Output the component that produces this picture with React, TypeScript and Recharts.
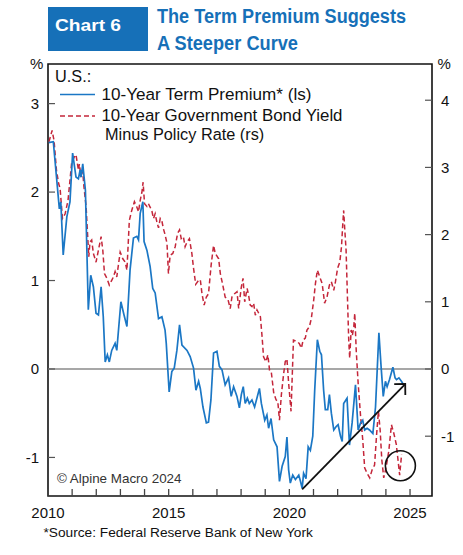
import {
  LineChart,
  Line,
  XAxis,
  YAxis,
  ReferenceLine,
  ReferenceDot,
  ReferenceArea,
} from 'recharts';

const FONT = '"Liberation Sans", Arial, Helvetica, sans-serif';
const BLUE = '#1b77c5';
const RED = '#c4263a';
const TITLE_BLUE = '#1670b8';

// U.S. 10-year term premium, % (left scale)
const tpYears = [
  2010.03, 2010.22, 2010.47, 2010.53, 2010.63, 2010.78, 2010.91, 2011.02, 2011.16, 2011.26,
  2011.33, 2011.37, 2011.44, 2011.55, 2011.67, 2011.77, 2011.88, 2011.99, 2012.09, 2012.2,
  2012.29, 2012.37, 2012.46, 2012.54, 2012.64, 2012.78, 2012.85, 2013.02, 2013.15, 2013.27,
  2013.4, 2013.54, 2013.68, 2013.75, 2013.82, 2013.93, 2013.98, 2014.1, 2014.23, 2014.34,
  2014.44, 2014.58, 2014.72, 2014.85, 2014.9, 2015.02, 2015.13, 2015.23, 2015.34, 2015.45,
  2015.55, 2015.76, 2015.89, 2016.03, 2016.13, 2016.24, 2016.31, 2016.42, 2016.56, 2016.65,
  2016.75, 2016.86, 2017.0, 2017.1, 2017.21, 2017.34, 2017.48, 2017.59, 2017.69, 2017.83,
  2017.93, 2018.01, 2018.09, 2018.17, 2018.26, 2018.34, 2018.45, 2018.56, 2018.76, 2018.84,
  2018.98, 2019.07, 2019.14, 2019.24, 2019.35, 2019.49, 2019.59, 2019.7, 2019.83, 2019.9,
  2019.97, 2020.04, 2020.14, 2020.25, 2020.39, 2020.46, 2020.53, 2020.59, 2020.69, 2020.78,
  2020.87, 2020.97, 2021.05, 2021.16, 2021.26, 2021.33, 2021.42, 2021.49, 2021.59, 2021.66,
  2021.74, 2021.84, 2021.94, 2022.02, 2022.12, 2022.19, 2022.25, 2022.39, 2022.49, 2022.6,
  2022.74, 2022.85, 2022.95, 2023.04, 2023.12, 2023.22, 2023.32, 2023.46, 2023.57, 2023.71,
  2023.8, 2023.89, 2023.98, 2024.05, 2024.15, 2024.29, 2024.38, 2024.44, 2024.54, 2024.65,
  2024.71,
];
const tpValues = [
  2.56, 2.57, 1.81, 1.89, 1.29, 1.72, 1.89, 2.44, 2.17, 2.15,
  2.25, 2.17, 2.32, 2.02, 0.67, 1.06, 0.93, 0.63, 0.61, 0.93,
  0.59, 0.08, 0.16, 0.08, 0.21, 0.29, 0.21, 0.76, 0.61, 0.48,
  1.12, 1.48, 1.5, 1.46, 1.76, 1.89, 1.44, 1.34, 1.16, 0.91,
  0.86, 0.57, 0.59, 0.44, 0.29, -0.26, -0.03, 0.01, 0.21, 0.5,
  0.27, 0.21, 0.14, 0.01, -0.24, -0.14, -0.22, -0.43, -0.61, -0.6,
  -0.35, 0.18, 0.2, 0.03, -0.01, -0.18, -0.1, -0.31, -0.2, -0.31,
  -0.44, -0.29, -0.2, -0.39, -0.33, -0.39, -0.35, -0.43, -0.22, -0.39,
  -0.58, -0.52, -0.67, -0.56, -0.8, -0.88, -1.27, -1.1, -0.99, -0.77,
  -1.14, -1.29, -1.2, -1.25, -1.2, -1.27, -1.35, -1.18, -1.24, -0.88,
  -0.92, -0.76, -0.24, 0.33, 0.2, 0.16, -0.24, -0.46, -0.46, -0.29,
  -0.5, -0.69, -0.65, -0.63, -0.76, -0.82, -0.39, -0.33, -0.86, -0.61,
  -0.18, -0.69, -0.61, -0.58, -0.69, -0.67, -0.69, -0.73, -0.43, 0.41,
  0.03, -0.31, -0.14, -0.2, -0.12, 0.02, -0.1, -0.12, -0.1, -0.14,
  -0.17,
];

// 10-year government bond yield minus policy rate, % (right scale)
const gapYears = [
  2010.04, 2010.17, 2010.25, 2010.35, 2010.44, 2010.5, 2010.6, 2010.71, 2010.83, 2010.98,
  2011.08, 2011.16, 2011.26, 2011.3, 2011.36, 2011.44, 2011.49, 2011.58, 2011.63, 2011.69,
  2011.74, 2011.81, 2011.88, 2011.99, 2012.09, 2012.2, 2012.27, 2012.34, 2012.44, 2012.54,
  2012.64, 2012.71, 2012.78, 2012.85, 2012.99, 2013.1, 2013.2, 2013.27, 2013.37, 2013.47,
  2013.58, 2013.68, 2013.75, 2013.82, 2013.89, 2013.94, 2014.0, 2014.1, 2014.16, 2014.23,
  2014.3, 2014.37, 2014.44, 2014.51, 2014.58, 2014.65, 2014.72, 2014.78, 2014.85, 2014.93,
  2014.99, 2015.06, 2015.17, 2015.27, 2015.37, 2015.45, 2015.52, 2015.61, 2015.68, 2015.76,
  2015.86, 2015.96, 2016.03, 2016.12, 2016.24, 2016.31, 2016.38, 2016.47, 2016.56, 2016.65,
  2016.76, 2016.86, 2016.93, 2017.07, 2017.14, 2017.23, 2017.34, 2017.46, 2017.55, 2017.62,
  2017.73, 2017.83, 2017.9, 2018.01, 2018.08, 2018.15, 2018.25, 2018.31, 2018.38, 2018.45,
  2018.52, 2018.59, 2018.66, 2018.73, 2018.8, 2018.87, 2018.93, 2019.03, 2019.11, 2019.18,
  2019.25, 2019.35, 2019.45, 2019.52, 2019.59, 2019.67, 2019.76, 2019.83, 2019.9, 2019.97,
  2020.07, 2020.17, 2020.32, 2020.41, 2020.5, 2020.57, 2020.66, 2020.73, 2020.83, 2020.91,
  2021.01, 2021.08, 2021.16, 2021.26, 2021.36, 2021.46, 2021.56, 2021.66, 2021.74, 2021.84,
  2021.91, 2022.0, 2022.09, 2022.16, 2022.21, 2022.25, 2022.29, 2022.35, 2022.41, 2022.46,
  2022.5, 2022.56, 2022.61, 2022.67, 2022.71, 2022.77, 2022.85, 2022.95, 2023.04, 2023.12,
  2023.22, 2023.33, 2023.43, 2023.53, 2023.62, 2023.69, 2023.76, 2023.83, 2023.91, 2024.0,
  2024.12, 2024.23, 2024.33, 2024.43, 2024.51, 2024.57, 2024.65,
];
const gapValues = [
  3.38, 3.55, 3.4, 2.96, 2.76, 2.69, 2.24, 2.31, 2.51, 3.07,
  3.15, 3.19, 2.96, 3.05, 2.88, 2.93, 2.71, 2.41, 2.07, 1.67,
  1.89, 1.92, 1.72, 1.59, 1.77, 1.97, 1.77, 1.42, 1.35, 1.25,
  1.32, 1.37, 1.45, 1.37, 1.74, 1.64, 1.59, 1.47, 2.21, 2.36,
  2.49, 2.41, 2.34, 2.51, 2.63, 2.78, 2.46, 2.42, 2.46, 2.41,
  2.36, 2.24, 2.31, 2.19, 2.1, 2.24, 2.2, 2.09, 2.0, 1.87,
  1.42, 1.69, 1.72, 1.82, 2.02, 2.07, 1.94, 1.97, 1.82, 1.89,
  1.94, 1.72, 1.5, 1.26, 1.32, 1.33, 1.12, 0.95, 1.07, 1.12,
  1.55, 1.84, 1.72, 1.64, 1.42, 1.27, 1.07, 1.03, 0.9, 1.07,
  1.12, 1.15, 0.9, 1.22, 1.35, 1.0, 1.2, 1.1, 0.95, 0.93,
  0.98, 0.8, 0.88, 0.83, 0.78, 0.48, 0.18, 0.11, 0.21, -0.02,
  -0.04, -0.35, -0.46, -0.48, -0.76, -0.38, -0.08, 0.11, 0.15, -0.21,
  -0.63, 0.43, 0.41, 0.38, 0.31, 0.43, 0.46, 0.58, 0.63, 0.75,
  1.03, 1.27, 1.47, 1.37, 1.27, 0.98, 1.07, 1.25, 1.3, 1.17,
  1.3, 1.5, 1.59, 1.82, 2.14, 2.36, 2.11, 1.77, 1.03, 0.43,
  0.16, 0.58, 0.5, 0.63, 0.83, 0.28, -0.21, -0.7, -1.05, -1.47,
  -1.55, -1.62, -1.5, -1.43, -0.95, -0.63, -0.9, -1.35, -1.62, -1.48,
  -1.22, -0.83, -0.96, -1.12, -1.38, -1.58, -1.27,
];

const yearTicks = [
  2010, 2011, 2012, 2013, 2014, 2015, 2016, 2017,
  2018, 2019, 2020, 2021, 2022, 2023, 2024, 2025,
];
const leftTicks = [-1, 0, 1, 2, 3];
const rightTicks = [-1, 0, 1, 2, 3, 4];

const X_DOMAIN: [number, number] = [2010, 2025.91];
const LEFT_DOMAIN: [number, number] = [-1.436, 3.448];
const RIGHT_DOMAIN: [number, number] = [-1.89, 4.539];

// trend arrow (left scale) and the circled latest reading (right scale)
const arrowFrom = { x: 2020.53, y: -1.36 };
const arrowTo = { x: 2024.8, y: -0.17 };
const circled = { x: 2024.6, y: -1.44 };

const rows = [
  ...tpYears.map((year, i) => ({ year, tp: tpValues[i] })),
  ...gapYears.map((year, i) => ({ year, gap: gapValues[i] })),
].sort((a, b) => a.year - b.year);

const tickStyle = { fontSize: 15, fill: '#111', fontFamily: FONT };

function ArrowShape(props: any) {
  const { x1, y1, x2, y2 } = props;
  const a = Math.atan2(y2 - y1, x2 - x1);
  const len = 11;
  const p1 = [x2 - len * Math.cos(a - Math.PI / 4), y2 - len * Math.sin(a - Math.PI / 4)];
  const p2 = [x2 - len * Math.cos(a + Math.PI / 4), y2 - len * Math.sin(a + Math.PI / 4)];
  return (
    <g>
      <line x1={x1} y1={y1} x2={x2} y2={y2} stroke="#111" strokeWidth={1.8} />
      <polyline
        points={`${p1[0]},${p1[1]} ${x2},${y2} ${p2[0]},${p2[1]}`}
        fill="none"
        stroke="#111"
        strokeWidth={1.8}
      />
    </g>
  );
}

export default function App() {
  return (
    <div style={{ position: 'absolute', left: 0, top: 0, width: 463, height: 555, background: '#fff' }}>
      <LineChart
        width={463}
        height={555}
        data={rows}
        margin={{ top: 64, right: 5, bottom: 29, left: 8 }}
      >
        <XAxis
          type="number"
          dataKey="year"
          domain={X_DOMAIN}
          allowDataOverflow
          ticks={yearTicks}
          interval={0}
          height={30}
          tickSize={-7}
          tickMargin={18}
          axisLine={false}
          tickLine={{ stroke: '#444', strokeWidth: 1.3 }}
          tick={tickStyle}
          tickFormatter={(v: number) => (v % 5 === 0 ? String(v) : '')}
        />
        <YAxis
          yAxisId="left"
          orientation="left"
          domain={LEFT_DOMAIN}
          allowDataOverflow
          ticks={leftTicks}
          interval={0}
          width={40}
          tickSize={-7}
          tickMargin={16}
          axisLine={false}
          tickLine={{ stroke: '#555', strokeWidth: 1.2 }}
          tick={tickStyle}
        />
        <YAxis
          yAxisId="right"
          orientation="right"
          domain={RIGHT_DOMAIN}
          allowDataOverflow
          ticks={rightTicks}
          interval={0}
          width={26}
          tickSize={-7}
          tickMargin={16}
          axisLine={false}
          tickLine={{ stroke: '#555', strokeWidth: 1.2 }}
          tick={tickStyle}
        />
        <ReferenceArea
          yAxisId="left"
          x1={X_DOMAIN[0]}
          x2={X_DOMAIN[1]}
          y1={LEFT_DOMAIN[0]}
          y2={LEFT_DOMAIN[1]}
          fill="none"
          stroke="#111"
          strokeWidth={1.6}
        />
        <ReferenceLine yAxisId="left" y={0} stroke="#8a8a8a" strokeWidth={1.5} />
        <Line
          yAxisId="right"
          type="linear"
          dataKey="gap"
          stroke={RED}
          strokeWidth={1.5}
          strokeDasharray="5 3"
          dot={false}
          connectNulls
          isAnimationActive={false}
        />
        <Line
          yAxisId="left"
          type="linear"
          dataKey="tp"
          stroke={BLUE}
          strokeWidth={1.7}
          dot={false}
          connectNulls
          isAnimationActive={false}
        />
        <ReferenceLine
          yAxisId="left"
          segment={[arrowFrom, arrowTo]}
          shape={ArrowShape}
          stroke="#111"
        />
        <ReferenceDot
          yAxisId="right"
          x={circled.x}
          y={circled.y}
          r={15}
          fill="none"
          stroke="#111"
          strokeWidth={1.6}
        />
      </LineChart>

      <svg
        width={463}
        height={555}
        style={{ position: 'absolute', left: 0, top: 0, pointerEvents: 'none' }}
        fontFamily={FONT}
      >
        <rect x={48} y={7} width={100} height={44} fill={TITLE_BLUE} />
        <text x={55} y={30.5} fill="#fff" fontSize={17} fontWeight="bold" textLength={66} lengthAdjust="spacingAndGlyphs">
          Chart 6
        </text>
        <text x={157} y={23} fill={TITLE_BLUE} fontSize={20} fontWeight="bold" textLength={249} lengthAdjust="spacingAndGlyphs">
          The Term Premium Suggests
        </text>
        <text x={157} y={50} fill={TITLE_BLUE} fontSize={20} fontWeight="bold" textLength={141} lengthAdjust="spacingAndGlyphs">
          A Steeper Curve
        </text>

        <text x={30} y={69} fontSize={15} fill="#111">%</text>
        <text x={437.5} y={69} fontSize={15} fill="#111">%</text>

        <text x={55} y={82} fontSize={16.3} fill="#111">U.S.:</text>
        <line x1={60} x2={95} y1={94.5} y2={94.5} stroke={BLUE} strokeWidth={1.7} />
        <text x={101.5} y={99.5} fontSize={16.3} fill="#111" textLength={210} lengthAdjust="spacingAndGlyphs">
          10-Year Term Premium* (ls)
        </text>
        <line x1={60} x2={95} y1={116} y2={116} stroke={RED} strokeWidth={1.5} strokeDasharray="5 3" />
        <text x={101.5} y={121} fontSize={16.3} fill="#111" textLength={241} lengthAdjust="spacingAndGlyphs">
          10-Year Government Bond Yield
        </text>
        <text x={105} y={139.5} fontSize={16.3} fill="#111">Minus Policy Rate (rs)</text>

        <text x={57} y={482.5} fontSize={13.4} fill="#333">© Alpine Macro 2024</text>
        <text x={43.5} y={536.5} fontSize={13.7} fill="#111">*Source: Federal Reserve Bank of New York</text>
      </svg>
    </div>
  );
}
